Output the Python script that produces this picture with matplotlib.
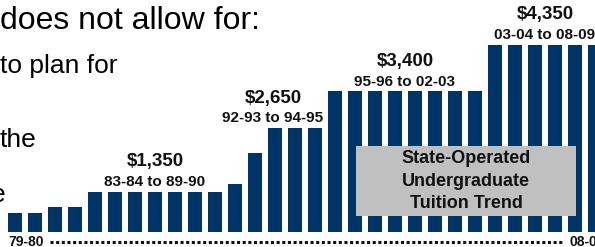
import matplotlib
matplotlib.use("Agg")
import matplotlib.pyplot as plt
import numpy as np

plt.rcParams['font.family'] = ['Liberation Sans', 'DejaVu Sans']

years = ["79-80", "80-81", "81-82", "82-83", "83-84", "84-85", "85-86", "86-87",
         "87-88", "88-89", "89-90", "90-91", "91-92", "92-93", "93-94", "94-95",
         "95-96", "96-97", "97-98", "98-99", "99-00", "00-01", "01-02", "02-03",
         "03-04", "04-05", "05-06", "06-07", "07-08", "08-09"]
tuition = [925, 925, 1050, 1050, 1350, 1350, 1350, 1350, 1350, 1350, 1350,
           1500, 2150, 2650, 2650, 2650, 3400, 3400, 3400, 3400, 3400, 3400,
           3400, 3400, 4350, 4350, 4350, 4350, 4350, 4350]
group_values = ["$1,350", "$2,650", "$3,400", "$4,350"]
group_ranges = ["83-84 to 89-90", "92-93 to 94-95", "95-96 to 02-03", "03-04 to 08-09"]
group_first = [4, 13, 16, 24]
group_last = [10, 15, 23, 29]
group_shift = [0.0, -1.1, 0.0, 0.0]

NAVY = "#003366"
W, H = 595, 247
fig = plt.figure(figsize=(W / 100, H / 100), dpi=100)
ax = fig.add_axes([0, 0, 1, 1])

base = 530
per_px = 1 / 0.049
ax.set_xlim(-0.75, -0.75 + W / 20)
ax.set_ylim(base - 15 * per_px, base + 232 * per_px)
ax.axis("off")

x = np.arange(len(years))
ax.bar(x, np.array(tuition) - base, bottom=base, width=0.7, color=NAVY, linewidth=0)

for v, r, a, b, s in zip(group_values, group_ranges, group_first, group_last, group_shift):
    cx = (a + b) / 2 + s
    top = tuition[a]
    ax.annotate(r, (cx, top), xytext=(0, 7), textcoords="offset points",
                ha="center", va="center", fontsize=11, fontweight="bold", color="#111111")
    ax.annotate(v, (cx, top), xytext=(0, 21.5), textcoords="offset points",
                ha="center", va="center", fontsize=13.5, fontweight="bold", color="#111111")

def fx(px):
    return px / W

def fy(py):
    return 1 - py / H

# bottom axis labels and dotted line
fig.text(fx(8), fy(246), years[0], ha="left", va="baseline", fontsize=10, fontweight="bold", color="#111111")
fig.text(fx(569), fy(246), years[-1], ha="left", va="baseline", fontsize=10, fontweight="bold", color="#111111")
fig.add_artist(plt.Line2D([fx(50), fx(563)], [fy(242), fy(242)], transform=fig.transFigure,
                          color="#111111", linewidth=2.2, linestyle=(0, (1, 0.85)),
                          dash_capstyle="butt"))

# gray box
fig.add_artist(plt.Rectangle((fx(356), fy(216)), (576 - 356) / W, (216 - 146) / H,
                             transform=fig.transFigure, facecolor="#C0C0C0", edgecolor="none"))
for t, py in zip(["State-Operated", "Undergraduate", "Tuition Trend"], [158, 181, 203]):
    fig.text(fx(466), fy(py), t, ha="center", va="center", fontsize=13, fontweight="bold", color="#111111")

# slide text fragments
fig.text(fx(0), fy(29), "does not allow for:", ha="left", va="baseline", fontsize=23, color="black")
fig.text(fx(0), fy(73), "to plan for", ha="left", va="baseline", fontsize=19, color="black")
fig.text(fx(0), fy(147), "the", ha="left", va="baseline", fontsize=19, color="black")
fig.text(fx(6), fy(202), "e", ha="right", va="baseline", fontsize=19, color="black")

fig.savefig("out.png", dpi=100)
